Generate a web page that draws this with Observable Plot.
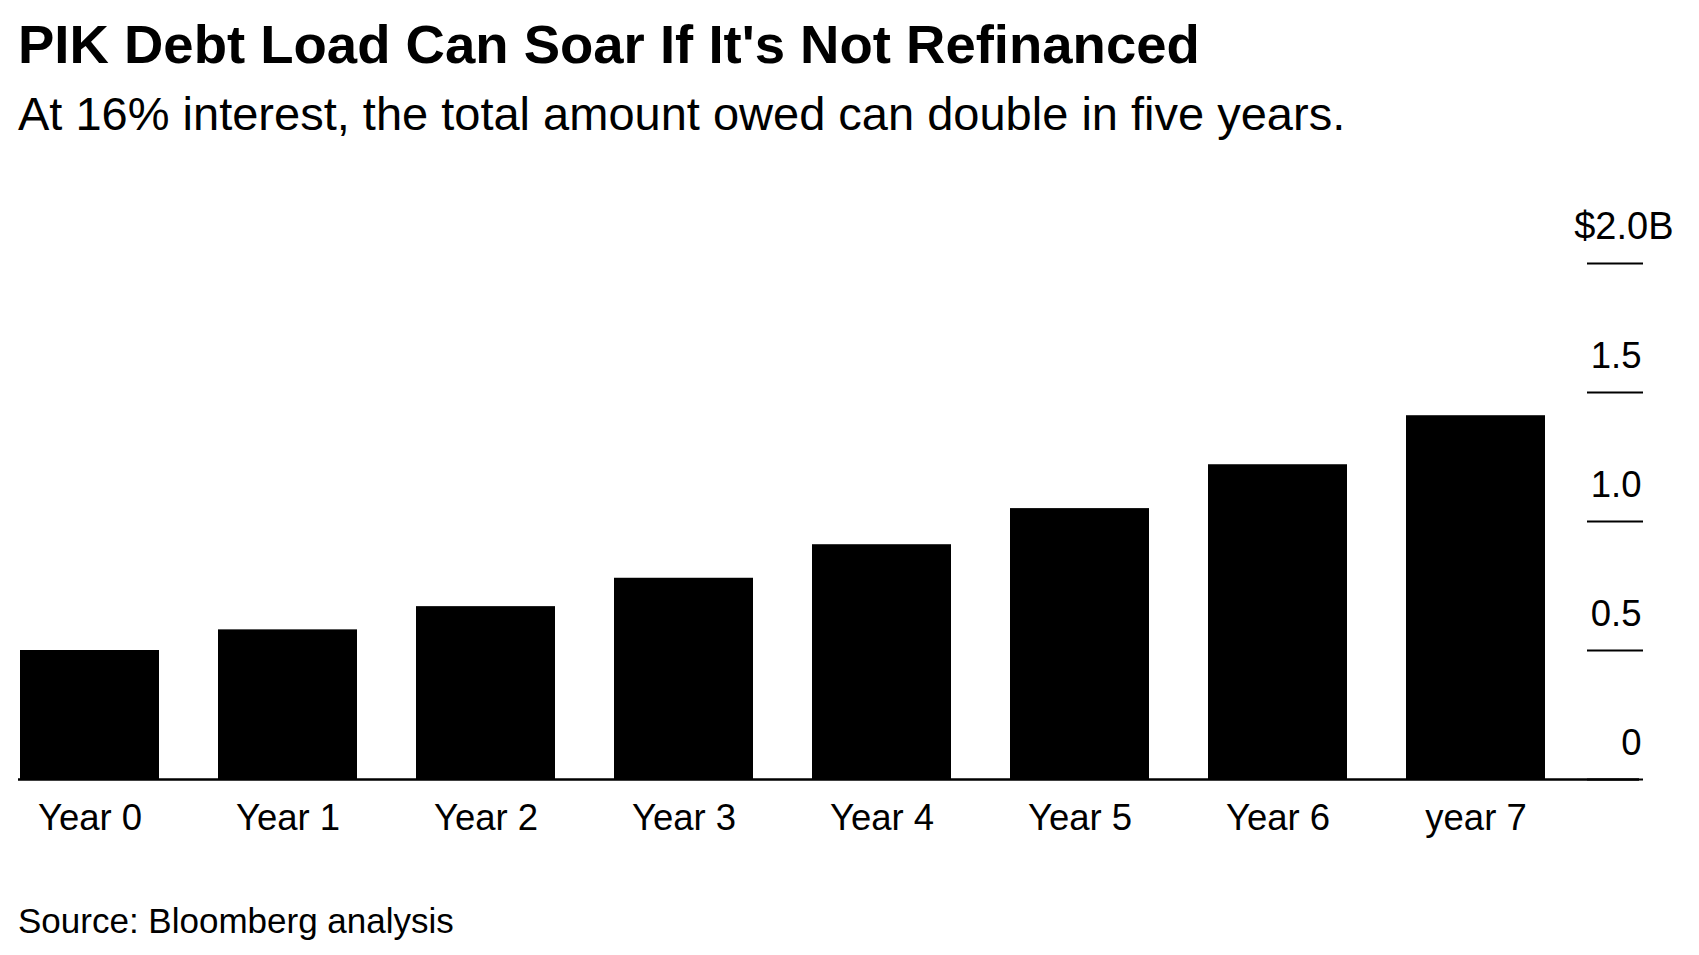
<!DOCTYPE html>
<html>
<head>
<meta charset="utf-8">
<script src="https://cdn.jsdelivr.net/npm/d3@7"></script>
<script src="https://cdn.jsdelivr.net/npm/@observablehq/plot@0.6"></script>
<style>
  html, body { margin: 0; padding: 0; background: #fff; overflow: hidden; }
  body { width: 1699px; height: 955px; position: relative; font-family: "Liberation Sans", Arial, Helvetica, sans-serif; color: #000; }
  .t { position: absolute; left: 18px; white-space: nowrap; line-height: 1; }
  #title { top: 18px; font-size: 54.5px; font-weight: bold; }
  #subtitle { top: 90px; font-size: 47px; }
  #chart { position: absolute; left: 0; top: 200px; }
  #source { top: 903px; font-size: 35px; }
</style>
</head>
<body>
<div id="title" class="t">PIK Debt Load Can Soar If It's Not Refinanced</div>
<div id="subtitle" class="t">At 16% interest, the total amount owed can double in five years.</div>
<div id="chart"></div>
<div id="source" class="t">Source: Bloomberg analysis</div>
<script>
const categories = ["Year 0", "Year 1", "Year 2", "Year 3", "Year 4", "Year 5", "Year 6", "year 7"];
const debtBillions = [0.5, 0.58, 0.67, 0.78, 0.91, 1.05, 1.22, 1.41];
const yTicks = [2, 1.5, 1, 0.5, 0];
const yTickLabels = ["$2.0B", "1.5", "1.0", "0.5", "0"];

const data = categories.map((c, i) => ({year: c, value: debtBillions[i]}));
const tickRows = yTicks.map((v, i) => ({v, label: yTickLabels[i], first: i === 0}));

const plot = Plot.plot({
  width: 1699,
  height: 659,
  marginLeft: 18,
  marginRight: 152,
  marginTop: 63,
  marginBottom: 80,
  style: {fontFamily: "Liberation Sans, Arial, sans-serif", fontSize: "36px", color: "#000", background: "#fff"},
  x: {domain: categories, paddingInner: 0.3, paddingOuter: 0, label: null},
  y: {domain: [0, 2], label: null},
  marks: [
    Plot.barY(data, {x: "year", y: "value", fill: "#000"}),
    Plot.ruleY([0], {stroke: "#000", strokeWidth: 2.5, insetRight: -92}),
    Plot.axisX({tickSize: 0, tickPadding: 25, fontSize: 36.5, fill: "#000"}),
    Plot.axisY({anchor: "right", ticks: yTicks, tickSize: 56, dx: 39, text: null, stroke: "#000", strokeWidth: 2}),
    Plot.text(tickRows.filter(d => !d.first), {y: "v", text: "label", frameAnchor: "right", textAnchor: "end", lineAnchor: "bottom", dx: 94, dy: -25, fontSize: 36.5, fill: "#000"}),
    Plot.text(tickRows.filter(d => d.first), {y: "v", text: "label", frameAnchor: "right", textAnchor: "end", lineAnchor: "bottom", dx: 126, dy: -25, fontSize: 38, fill: "#000"})
  ]
});
document.getElementById("chart").appendChild(plot);
</script>
</body>
</html>
